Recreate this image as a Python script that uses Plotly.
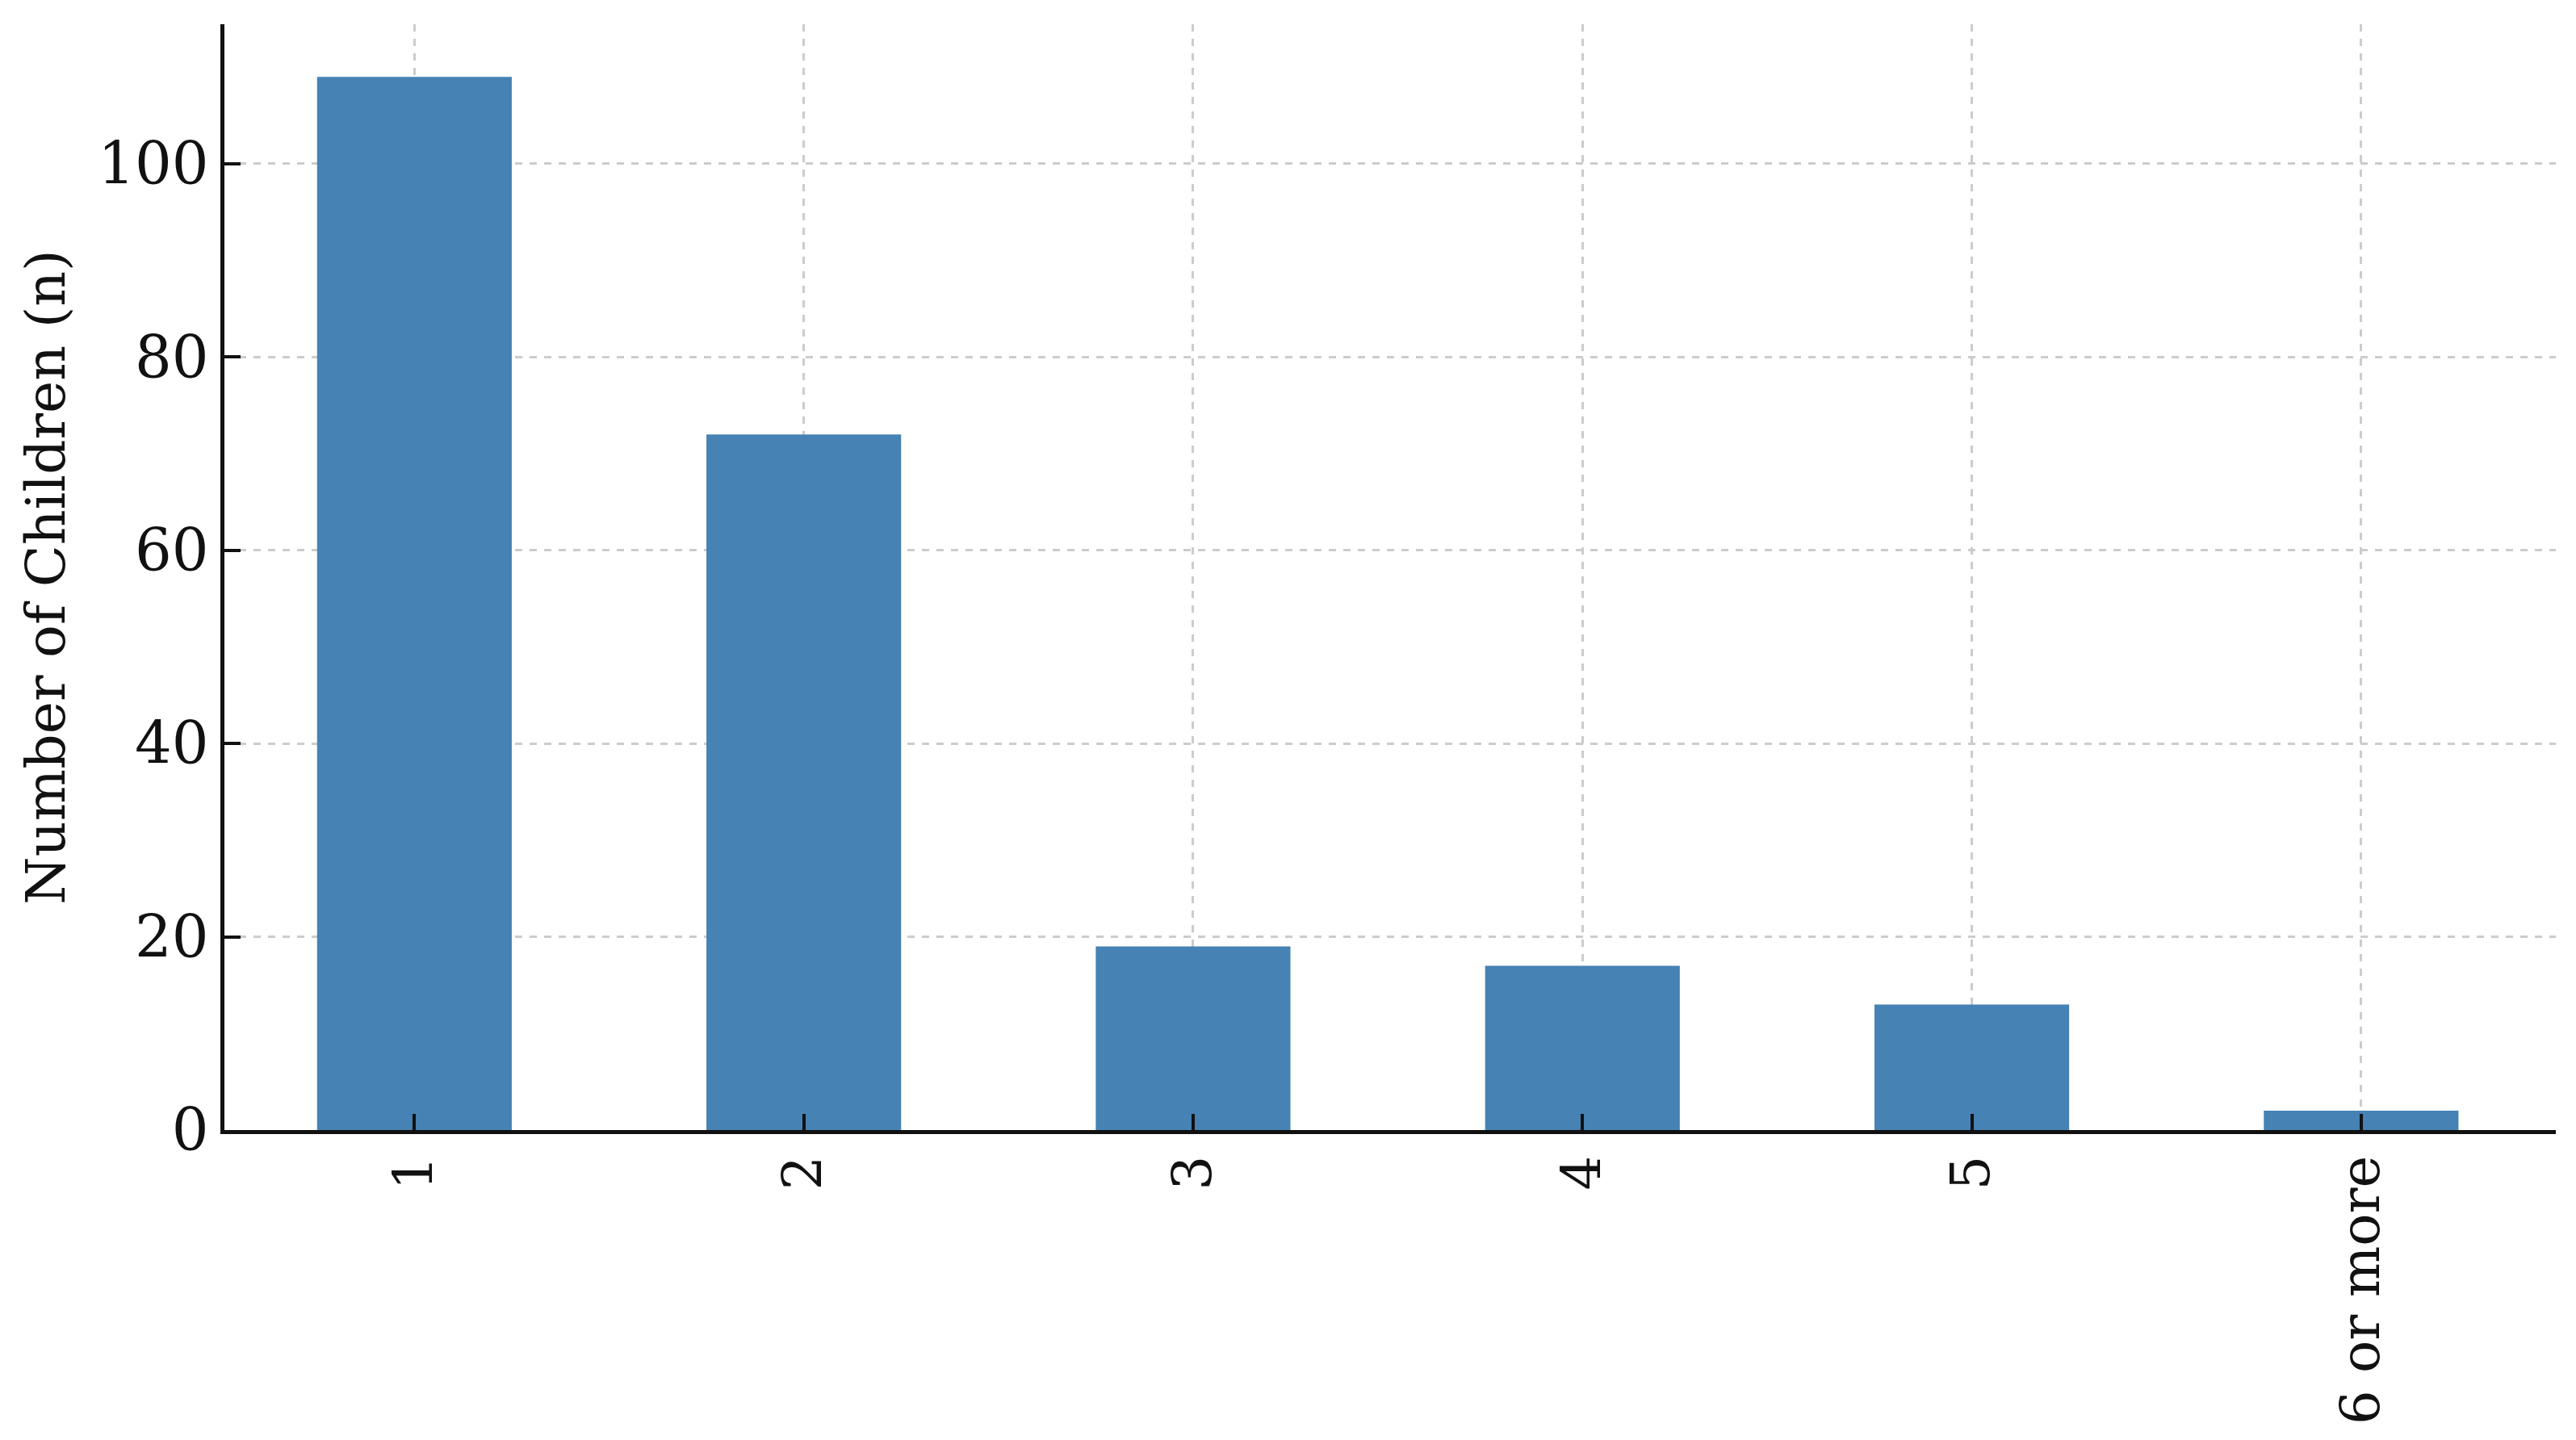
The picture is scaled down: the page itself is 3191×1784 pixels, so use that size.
import plotly.graph_objects as go

# number of children per household-size category
categories = ["1", "2", "3", "4", "5", "6 or more"]
counts = [109, 72, 19, 17, 13, 2]

font_family = "DejaVu Serif"

fig = go.Figure()
fig.add_trace(go.Bar(
    x=categories,
    y=counts,
    width=0.5,
    marker=dict(color="#4682B4", line=dict(width=0)),
))

fig.update_layout(
    width=3191,
    height=1784,
    margin=dict(l=270, r=33, t=22, b=392),
    plot_bgcolor="white",
    paper_bgcolor="white",
    showlegend=False,
    font=dict(family=font_family, size=67, color="#111111"),
)

fig.update_xaxes(
    type="category",
    range=[-0.488, 5.5],
    tickangle=-90,
    showline=True, linecolor="#111111", linewidth=5,
    ticks="inside", ticklen=20, tickwidth=4, tickcolor="#111111",
    showgrid=True, gridcolor="#cccccc", gridwidth=2.5, griddash="dash",
    zeroline=False,
    tickfont=dict(size=67),
)
fig.update_yaxes(
    range=[0, 114.45],
    tickvals=[0, 20, 40, 60, 80, 100],
    showline=True, linecolor="#111111", linewidth=5,
    ticks="inside", ticklen=20, tickwidth=4, tickcolor="#111111",
    showgrid=True, gridcolor="#cccccc", gridwidth=2.5, griddash="dash",
    zeroline=False,
    tickfont=dict(size=72),
    title=dict(text="Number of Children (n)", font=dict(size=68), standoff=20),
)

fig.write_html("out.html")
